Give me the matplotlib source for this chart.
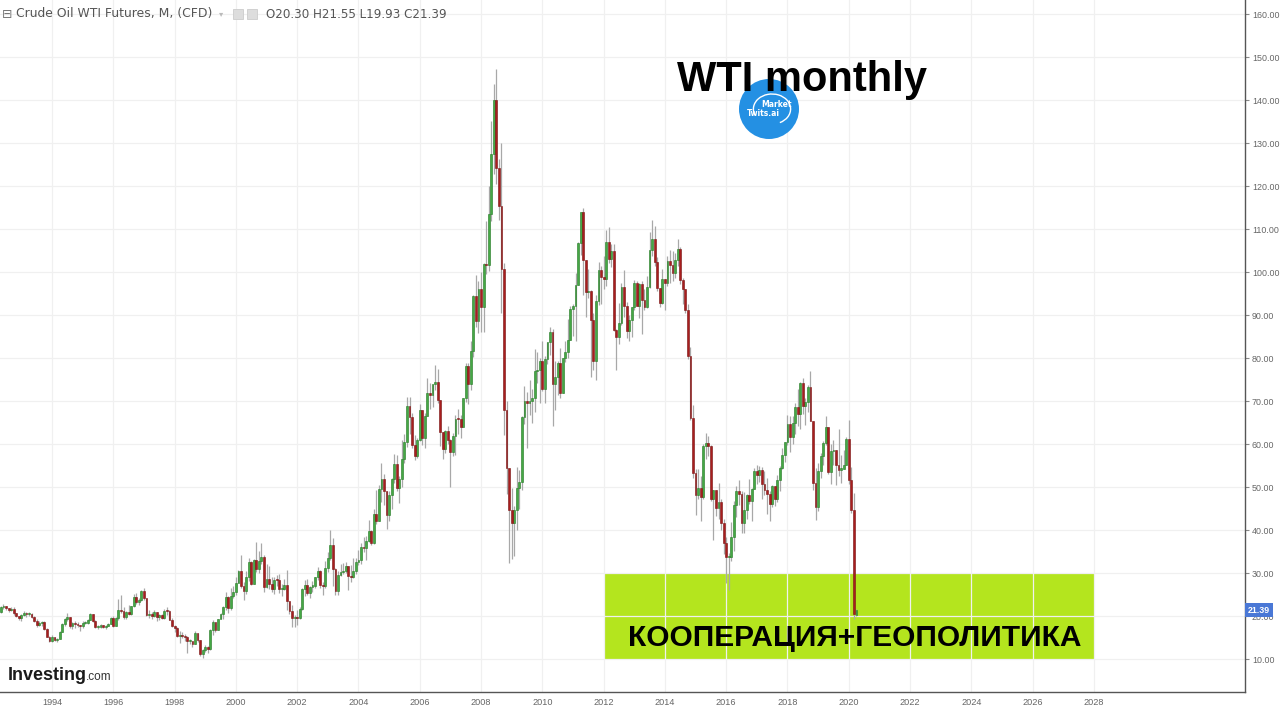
import matplotlib
matplotlib.use("Agg")
import matplotlib.pyplot as plt
from matplotlib.patches import Rectangle, Circle, Arc
import numpy as np

# ---------------- data (monthly WTI CFD, from Jan 1992) ----------------
start_year = 1992
closes = [
    18.90, 18.68, 19.44, 20.85, 22.11, 22.37, 21.77, 21.38, 21.69, 20.62, 19.89, 19.50,  # 1992
    20.26, 20.60, 20.44, 20.53, 19.87, 18.85, 17.88, 18.29, 18.61, 16.92, 15.20, 14.17,  # 1993
    15.19, 14.48, 14.66, 16.38, 18.19, 19.26, 19.68, 17.59, 18.40, 18.20, 17.97, 17.76,  # 1994
    18.39, 18.49, 19.17, 20.38, 18.89, 17.40, 17.56, 17.84, 17.54, 17.64, 18.18, 19.55,  # 1995
    17.74, 19.54, 21.47, 21.20, 19.76, 20.92, 20.42, 22.25, 24.38, 23.35, 23.75, 25.92,  # 1996
    24.15, 20.30, 20.41, 19.93, 20.88, 19.80, 20.14, 19.61, 21.18, 21.08, 19.15, 17.64,  # 1997
    17.21, 15.44, 15.61, 15.39, 15.20, 14.18, 14.21, 13.39, 16.14, 14.42, 11.22, 12.05,  # 1998
    12.75, 12.27, 16.76, 18.66, 16.84, 19.29, 20.53, 22.11, 24.51, 21.75, 24.59, 25.60,  # 1999
    27.64, 30.43, 26.90, 25.74, 29.01, 32.50, 27.43, 33.12, 30.84, 32.70, 33.82, 26.80,  # 2000
    28.66, 27.39, 26.29, 28.46, 28.37, 26.25, 26.35, 27.20, 23.43, 21.18, 19.44, 19.84,  # 2001
    19.48, 21.74, 26.31, 27.29, 25.31, 26.86, 27.02, 28.98, 30.45, 27.22, 26.89, 31.20,  # 2002
    33.51, 36.60, 31.04, 25.80, 29.56, 30.19, 30.54, 31.57, 29.20, 29.11, 30.41, 32.52,  # 2003
    33.05, 36.16, 35.76, 37.38, 39.88, 37.05, 43.80, 42.12, 49.64, 51.76, 49.13, 43.45,  # 2004
    48.20, 51.75, 55.40, 49.72, 51.97, 56.50, 60.57, 68.94, 66.24, 59.76, 57.32, 61.04,  # 2005
    67.92, 61.41, 66.63, 71.88, 71.29, 73.93, 74.40, 70.26, 62.91, 58.73, 62.97, 61.05,  # 2006
    58.14, 61.79, 65.87, 65.71, 64.01, 70.68, 78.21, 74.04, 81.66, 94.53, 88.71, 95.98,  # 2007
    91.75, 101.84, 101.58, 113.46, 127.35, 140.00, 124.08, 115.46, 100.64, 67.81, 54.43, 44.60,  # 2008
    41.68, 44.76, 49.66, 51.12, 66.31, 69.89, 69.45, 69.96, 70.61, 77.00, 77.28, 79.36,  # 2009
    72.89, 79.66, 83.76, 86.15, 73.97, 75.63, 78.95, 71.92, 79.97, 81.43, 84.11, 91.38,  # 2010
    92.19, 96.97, 106.72, 113.93, 102.70, 95.42, 95.70, 88.81, 79.20, 93.19, 100.36, 98.83,  # 2011
    98.48, 107.07, 103.02, 104.87, 86.53, 84.96, 88.06, 96.47, 92.19, 86.24, 88.91, 91.82,  # 2012
    97.49, 92.05, 97.23, 93.46, 91.97, 96.56, 105.03, 107.65, 102.33, 96.38, 92.72, 98.42,  # 2013
    97.49, 102.59, 101.58, 99.74, 102.71, 105.37, 98.17, 95.96, 91.16, 80.54, 66.15, 53.27,  # 2014
    48.24, 49.76, 47.60, 59.63, 60.30, 59.47, 47.12, 49.20, 45.09, 46.59, 41.65, 37.04,  # 2015
    33.62, 33.75, 38.34, 45.92, 49.10, 48.33, 41.60, 44.70, 48.24, 46.86, 49.44, 53.72,  # 2016
    52.81, 54.01, 50.60, 49.33, 48.32, 46.04, 50.17, 47.23, 51.67, 54.38, 57.40, 60.42,  # 2017
    64.73, 61.64, 64.94, 68.57, 67.04, 74.15, 68.76, 69.80, 73.25, 65.31, 50.93, 45.41,  # 2018
    53.79, 57.22, 60.14, 63.91, 53.50, 58.47, 58.58, 55.10, 54.07, 54.18, 55.17, 61.06,  # 2019
    51.56, 44.76, 20.48, 21.39,                                                          # 2020
]
highs = [
    19.50, 19.35, 19.60, 20.95, 22.40, 22.75, 22.40, 21.90, 22.20, 22.10, 20.70, 20.10,
    20.45, 21.10, 20.90, 20.95, 20.70, 19.90, 19.30, 18.80, 18.90, 18.95, 17.20, 15.30,
    15.60, 15.20, 15.00, 16.55, 18.30, 19.60, 20.70, 19.60, 18.50, 18.90, 18.60, 17.95,
    18.80, 18.90, 19.20, 20.70, 20.40, 19.00, 17.90, 18.10, 17.90, 17.80, 18.40, 19.80,
    19.90, 19.70, 23.90, 25.00, 22.00, 21.10, 22.50, 22.40, 25.20, 25.40, 24.20, 26.00,
    26.60, 24.00, 21.50, 20.90, 21.50, 21.00, 20.50, 20.40, 21.60, 22.00, 21.50, 19.50,
    17.80, 17.40, 16.60, 16.20, 15.90, 15.40, 14.60, 14.00, 16.50, 16.10, 14.50, 12.30,
    13.20, 13.10, 16.90, 19.00, 18.60, 19.40, 20.80, 22.40, 25.60, 24.60, 26.40, 27.00,
    29.10, 30.80, 34.10, 27.90, 30.40, 33.40, 32.80, 33.30, 37.20, 35.20, 37.00, 34.10,
    32.20, 31.60, 29.00, 29.00, 29.60, 29.70, 27.40, 28.70, 30.60, 23.40, 22.60, 20.30,
    21.30, 22.10, 26.50, 28.40, 28.50, 27.00, 28.10, 29.00, 31.40, 30.80, 28.00, 32.80,
    34.80, 39.99, 38.10, 31.20, 30.50, 32.00, 32.30, 32.50, 30.60, 31.80, 33.60, 33.40,
    35.30, 37.00, 38.40, 38.50, 42.30, 40.00, 44.80, 49.40, 50.50, 55.70, 53.00, 46.30,
    49.00, 52.10, 57.60, 57.50, 52.60, 60.90, 62.30, 70.90, 70.90, 67.20, 62.00, 61.40,
    69.20, 68.00, 67.10, 75.40, 74.30, 74.00, 78.40, 77.40, 70.00, 62.50, 63.30, 64.20,
    61.10, 62.50, 66.70, 68.10, 66.80, 70.70, 78.80, 78.80, 83.90, 94.70, 99.30, 97.90,
    100.10, 102.10, 111.80, 119.90, 135.10, 143.70, 147.30, 126.20, 130.00, 102.00, 70.00, 50.50,
    49.70, 45.50, 54.70, 53.90, 66.40, 73.40, 72.00, 75.00, 72.90, 82.00, 81.50, 80.00,
    83.95, 80.50, 83.80, 87.10, 86.80, 79.30, 79.30, 82.40, 80.10, 84.00, 89.00, 92.10,
    92.60, 99.80, 106.90, 113.90, 114.80, 102.50, 100.60, 95.80, 90.50, 94.60, 102.40, 101.50,
    103.70, 109.80, 110.50, 106.40, 106.40, 86.70, 92.90, 97.40, 100.40, 93.00, 90.00, 91.50,
    98.20, 97.80, 97.40, 97.90, 96.10, 99.00, 109.30, 112.20, 110.70, 103.50, 95.30, 100.80,
    98.20, 103.80, 105.20, 104.90, 104.50, 107.70, 105.80, 98.60, 95.90, 92.50, 82.60, 69.00,
    54.20, 54.20, 52.50, 59.90, 62.60, 61.80, 59.70, 49.30, 49.40, 50.90, 47.20, 42.50,
    38.40, 34.70, 41.90, 46.80, 50.20, 51.70, 49.00, 48.80, 48.30, 51.90, 49.80, 54.50,
    55.20, 54.90, 54.60, 53.80, 52.00, 49.00, 50.40, 50.20, 52.80, 54.80, 59.05, 60.50,
    66.70, 66.60, 66.60, 69.60, 72.90, 74.50, 75.30, 70.80, 73.80, 76.90, 65.40, 54.50,
    55.50, 57.80, 60.70, 66.60, 63.80, 59.90, 60.90, 57.50, 63.40, 57.50, 58.70, 61.70,
    65.65, 54.70, 48.70, 21.55,
]
lows = [
    17.90, 18.50, 18.35, 19.30, 20.70, 21.70, 21.40, 20.90, 21.20, 20.30, 19.70, 19.00,
    18.95, 20.10, 19.70, 20.10, 19.60, 18.50, 17.50, 17.70, 17.70, 16.80, 15.20, 13.90,
    14.00, 14.20, 13.90, 14.60, 16.30, 17.60, 18.90, 17.10, 16.90, 17.20, 17.50, 16.60,
    17.30, 18.20, 18.10, 19.10, 18.60, 17.30, 16.90, 17.20, 17.10, 17.00, 17.60, 18.10,
    17.50, 17.60, 19.00, 20.60, 19.30, 19.40, 20.20, 20.30, 22.00, 22.80, 22.50, 23.50,
    23.80, 20.00, 19.60, 19.20, 19.70, 18.90, 19.00, 19.30, 19.40, 20.30, 19.00, 17.40,
    16.30, 15.10, 13.70, 14.90, 14.10, 11.40, 13.60, 12.90, 13.40, 14.00, 10.80, 10.35,
    11.60, 11.40, 12.10, 15.70, 16.30, 16.70, 19.20, 19.40, 21.30, 20.80, 21.50, 24.10,
    24.90, 27.80, 26.60, 23.70, 25.10, 28.20, 27.10, 27.40, 30.30, 30.10, 32.00, 25.70,
    26.50, 26.20, 25.60, 25.20, 26.90, 25.30, 24.70, 26.10, 21.40, 20.50, 17.40, 17.50,
    17.80, 19.20, 21.40, 24.70, 25.00, 24.20, 25.70, 26.50, 28.40, 26.40, 25.00, 26.40,
    30.30, 33.00, 26.90, 25.00, 25.00, 29.30, 29.80, 30.00, 26.00, 28.00, 28.80, 29.80,
    31.80, 32.20, 34.80, 33.00, 37.30, 36.60, 36.70, 41.40, 42.00, 46.50, 45.80, 40.20,
    42.10, 45.00, 50.90, 49.10, 46.20, 50.10, 55.60, 59.30, 62.30, 59.00, 56.20, 56.80,
    60.80, 59.80, 59.10, 66.50, 68.20, 68.50, 72.60, 69.60, 59.50, 56.60, 57.80, 60.00,
    49.90, 57.20, 57.50, 62.40, 61.40, 64.30, 69.70, 69.20, 72.60, 80.20, 87.20, 85.80,
    86.10, 86.10, 99.60, 100.20, 111.80, 122.80, 120.40, 112.00, 90.50, 62.00, 48.40, 32.40,
    33.20, 33.90, 40.00, 45.00, 49.30, 64.60, 59.00, 66.80, 65.00, 67.50, 74.20, 69.50,
    72.40, 69.50, 78.70, 80.80, 64.20, 68.00, 71.30, 70.80, 72.60, 79.10, 80.00, 84.60,
    85.10, 83.90, 97.00, 104.00, 94.60, 89.60, 94.00, 75.70, 77.10, 74.90, 92.40, 92.50,
    96.00, 96.80, 102.00, 101.20, 86.30, 77.30, 83.30, 87.60, 89.50, 84.60, 84.00, 85.00,
    91.20, 92.00, 89.30, 85.60, 91.20, 91.60, 96.20, 103.70, 101.50, 95.60, 91.80, 92.50,
    91.20, 96.70, 97.40, 97.80, 98.50, 101.40, 97.10, 92.50, 90.40, 79.80, 65.70, 52.10,
    43.60, 47.30, 42.00, 47.10, 56.50, 57.20, 46.70, 37.75, 43.20, 42.60, 39.90, 34.50,
    27.60, 26.05, 32.80, 35.20, 43.00, 45.80, 39.20, 39.20, 42.50, 46.10, 42.20, 49.90,
    50.70, 51.20, 47.10, 48.20, 43.80, 42.10, 45.40, 45.60, 46.50, 49.10, 54.30, 55.80,
    59.80, 58.10, 60.10, 62.40, 64.20, 63.60, 66.90, 64.40, 67.40, 65.30, 49.40, 42.40,
    44.35, 52.00, 55.20, 59.80, 53.00, 50.60, 55.10, 50.50, 52.60, 50.90, 54.50, 55.30,
    50.60, 44.00, 19.27, 19.93,
]
first_open = 19.12
last_open = 20.30   # header: O20.30
header_ohlc = "O20.30 H21.55 L19.93 C21.39"
last_price = 21.39
y_ticks = list(range(10, 161, 10))
x_ticks = list(range(1994, 2029, 2))
zone_x = (2012.0, 2028.0)
zone_y = (10.0, 30.0)
title = "WTI monthly"
zone_text = "КООПЕРАЦИЯ+ГЕОПОЛИТИКА"

# ---------------- derived ----------------
closes = np.array(closes)
highs = np.array(highs)
lows = np.array(lows)
opens = np.concatenate([[first_open], closes[:-1]])
opens[-1] = last_open
n = len(closes)
xs = start_year + np.arange(n) / 12.0
highs = np.maximum(highs, np.maximum(opens, closes))
lows = np.minimum(lows, np.minimum(opens, closes))

W, H = 1280, 707
fig = plt.figure(figsize=(W / 100, H / 100), dpi=100)
fig.patch.set_facecolor("white")
ax = fig.add_axes([0, 15 / H, 1245 / W, 692 / H])
ax.set_xlim(1992.303, 2032.93)
ax.set_ylim(2.33, 163.26)
ax.set_facecolor("white")

grid_c = "#f0f0f0"
for v in y_ticks:
    ax.axhline(v, color=grid_c, lw=0.9, zorder=1)
for v in x_ticks:
    ax.axvline(v, color=grid_c, lw=0.9, zorder=1)

# highlighted zone
ax.add_patch(Rectangle((zone_x[0], zone_y[0]), zone_x[1] - zone_x[0], zone_y[1] - zone_y[0],
                       facecolor="#b4e51e", edgecolor="none", zorder=0.8))

# candles
up = closes >= opens
bw = 0.72 / 12
ax.vlines(xs, lows, highs, color="#a8a8a8", lw=0.9, zorder=2)
body_b = np.minimum(opens, closes)
body_h = np.maximum(np.abs(closes - opens), 0.25)
ax.bar(xs[up], body_h[up], bottom=body_b[up], width=bw, color="#45a845",
       edgecolor="#237a23", lw=0.4, zorder=3, align="center")
ax.bar(xs[~up], body_h[~up], bottom=body_b[~up], width=bw, color="#a81e1e",
       edgecolor="#7a1212", lw=0.4, zorder=3, align="center")

ax.text(2012.78, 15.0, zone_text, fontsize=21.5, fontweight="bold", color="black",
        family=["Liberation Sans", "DejaVu Sans"],
        ha="left", va="center", zorder=5)

# axes styling
for s in ["left", "top"]:
    ax.spines[s].set_visible(False)
for s in ["right", "bottom"]:
    ax.spines[s].set_color("#555555")
    ax.spines[s].set_linewidth(1.0)
ax.yaxis.tick_right()
ax.set_yticks(y_ticks)
ax.set_yticklabels([f"{v:.2f}" for v in y_ticks])
ax.set_xticks(x_ticks)
ax.set_xticklabels([str(v) for v in x_ticks])
ax.tick_params(axis="y", length=3, width=0.8, color="#888888", labelsize=6.4,
               labelcolor="#666666", pad=2)
ax.tick_params(axis="x", length=0, labelsize=6.6, labelcolor="#666666", pad=4)
for lab in ax.get_xticklabels() + ax.get_yticklabels():
    lab.set_family(["Liberation Sans", "DejaVu Sans"])

# current price label
ax.annotate(f"{last_price:.2f}", xy=(1.0, last_price), xycoords=("axes fraction", "data"),
            xytext=(2, 0), textcoords="offset points", fontsize=6.4, color="white",
            fontweight="bold", family=["Liberation Sans", "DejaVu Sans"],
            va="center", ha="left", annotation_clip=False, zorder=10,
            bbox=dict(boxstyle="square,pad=0.3", facecolor="#4a78d6", edgecolor="none"))

def fx(px):
    return px / W

def fy(py):
    return 1 - py / H

# header
fig.text(fx(2), fy(14), "\u229f", fontsize=9, color="#777777", va="center", ha="left",
         family=["DejaVu Sans"])
fig.text(fx(16), fy(14), "Crude Oil WTI Futures, M, (CFD)", fontsize=8.9, color="#555555",
         va="center", ha="left", family=["DejaVu Sans"])
fig.text(fx(219), fy(14), "\u25be", fontsize=6, color="#bbbbbb", va="center", ha="left")
fig.patches.append(Rectangle((fx(233), fy(19)), 10 / W, 10 / H, transform=fig.transFigure,
                             facecolor="#dddddd", edgecolor="#cccccc", lw=0.6))
fig.patches.append(Rectangle((fx(247), fy(19)), 10 / W, 10 / H, transform=fig.transFigure,
                             facecolor="#dddddd", edgecolor="#cccccc", lw=0.6))
fig.text(fx(266), fy(14), header_ohlc, fontsize=8.6, color="#555555", va="center",
         ha="left", family=["DejaVu Sans"])

# title
fig.text(fx(802), fy(80), title, fontsize=30, fontweight="bold", color="black",
         ha="center", va="center", family=["Liberation Sans", "DejaVu Sans"], zorder=4)

# logo
lax = fig.add_axes([fx(739), fy(139), 60 / W, 60 / H])
lax.set_xlim(0, 1)
lax.set_ylim(0, 1)
lax.axis("off")
lax.add_patch(Circle((0.5, 0.5), 0.5, facecolor="#2490e3", edgecolor="none"))
lax.add_patch(Arc((0.55, 0.5), 0.62, 0.5, theta1=-60, theta2=200, color="white", lw=1.0))
lax.text(0.62, 0.57, "Market", fontsize=5.5, fontweight="bold", color="white",
         ha="center", va="center")
lax.text(0.4, 0.42, "Twits.ai", fontsize=5.5, fontweight="bold", color="white",
         ha="center", va="center")

# Investing.com logo
fig.text(fx(8), fy(675), "Investing", fontsize=13, fontweight="bold", color="#1a1a1a",
         ha="left", va="center", family=["Liberation Sans", "DejaVu Sans"])
fig.text(fx(86), fy(677), ".com", fontsize=8.5, color="#333333",
         ha="left", va="center", family=["Liberation Sans", "DejaVu Sans"])

fig.savefig("out.png", dpi=100, facecolor="white")
